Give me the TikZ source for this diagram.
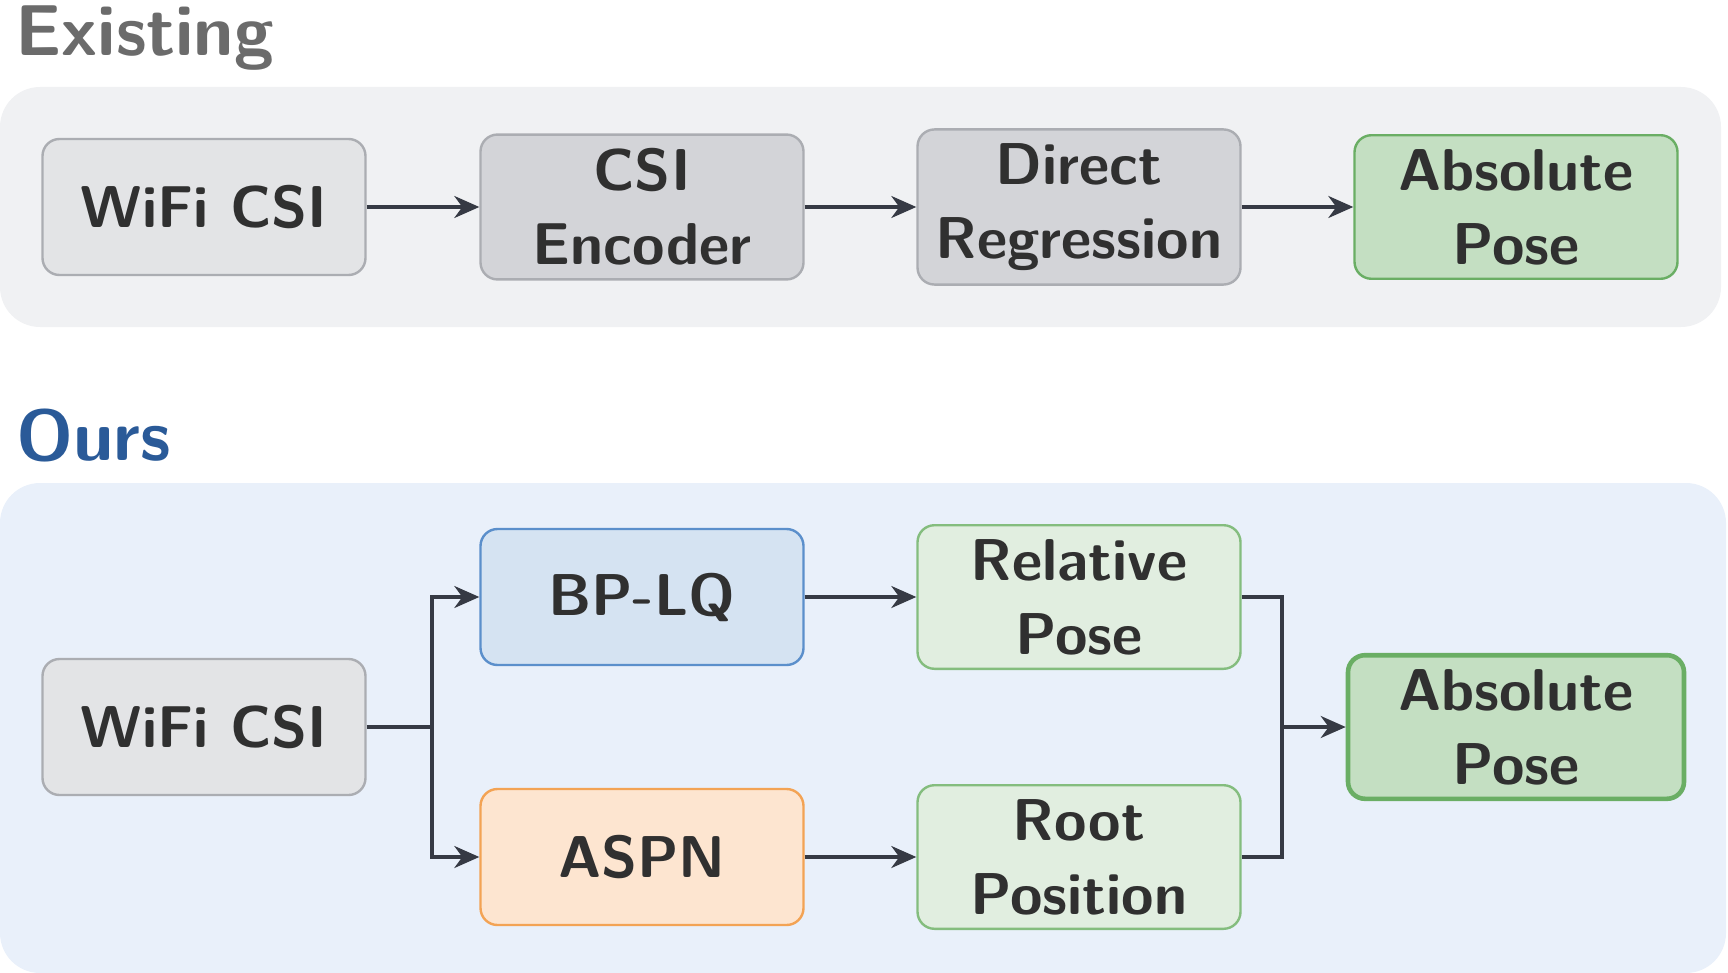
\documentclass[tikz,border=0pt]{standalone}
\usepackage{fontspec}
\usetikzlibrary{arrows.meta}
\definecolor{txt}{HTML}{303030}
\definecolor{topbg}{HTML}{F0F1F3}
\definecolor{botbg}{HTML}{E9F0FA}
\definecolor{grayfill}{HTML}{E3E4E6}
\definecolor{grayline}{HTML}{ABADB2}
\definecolor{darkfill}{HTML}{D3D4D8}
\definecolor{greenfill}{HTML}{C4DFC2}
\definecolor{greenline}{HTML}{6AAE64}
\definecolor{lgreenfill}{HTML}{E1EEE0}
\definecolor{lgreenline}{HTML}{84BD7E}
\definecolor{bluefill}{HTML}{D5E3F2}
\definecolor{blueline}{HTML}{5B8FCB}
\definecolor{orangefill}{HTML}{FDE5D0}
\definecolor{orangeline}{HTML}{F3A354}
\definecolor{arrowcol}{HTML}{363A44}
\definecolor{existcol}{HTML}{6B6B6B}
\definecolor{ourscol}{HTML}{2A5A98}
\newcommand\bxfont{\sffamily\bfseries\fontsize{29.5}{37}\selectfont}
\newcommand\ttlfont{\sffamily\bfseries\fontsize{36}{42}\selectfont}

\begin{document}
\begin{tikzpicture}[x=.5pt,y=-.5pt,
  box/.style={draw,rounded corners=8.5pt,line width=1.2pt,minimum width=161.5pt,minimum height=68pt,inner ysep=7pt,align=center,text=txt,font=\bxfont},
  graybox/.style={box,fill=grayfill,draw=grayline},
  darkbox/.style={box,fill=darkfill,draw=grayline},
  absbox/.style={box,fill=greenfill,draw=greenline},
  relbox/.style={box,fill=lgreenfill,draw=lgreenline},
  link/.style={draw=arrowcol,line width=1.6pt},
  arr/.style={link,-{Stealth[length=12.5pt,width=11pt,inset=4pt]}}]
\useasboundingbox(0,0)rectangle(1728,973);
\fill[topbg,rounded corners=20pt](0,87)rectangle(1721,327);
\fill[botbg,rounded corners=20pt](0,483)rectangle(1726,973);
\node[anchor=base west,inner sep=0,text=existcol,font=\ttlfont](existing)at(15,56){Existing};
\node[anchor=base west,inner sep=0,text=ourscol,font=\ttlfont](ours)at(16,460){Ours};
% existing pipeline
\node[graybox](wifiA)at(204,207){WiFi CSI};
\node[darkbox](encA)at(642,207){CSI\\Encoder};
\node[darkbox](regA)at(1079,207){Direct\\Regression};
\node[absbox](absA)at(1516,207){Absolute\\Pose};
\draw[arr](wifiA)--(encA);
\draw[arr](encA)--(regA);
\draw[arr](regA)--(absA);
% our pipeline
\node[graybox](wifiB)at(204,727){WiFi CSI};
\node[box,fill=bluefill,draw=blueline](bplq)at(642,597){BP-LQ};
\node[box,fill=orangefill,draw=orangeline](aspn)at(642,857){ASPN};
\node[relbox](relpose)at(1079,597){Relative\\Pose};
\node[relbox](rootpos)at(1079,857){Root\\Position};
\node[absbox,line width=2.3pt,minimum width=168pt](absB)at(1516,727){Absolute\\Pose};
\coordinate(split)at(432,727);
\coordinate(merge)at(1282,727);
\draw[link](wifiB)--(split);
\draw[arr](split)|-(bplq);
\draw[arr](split)|-(aspn);
\draw[arr](bplq)--(relpose);
\draw[arr](aspn)--(rootpos);
\draw[link](relpose)-|(merge);
\draw[link](rootpos)-|(merge);
\draw[arr](merge)--(absB);
\end{tikzpicture}
\end{document}
